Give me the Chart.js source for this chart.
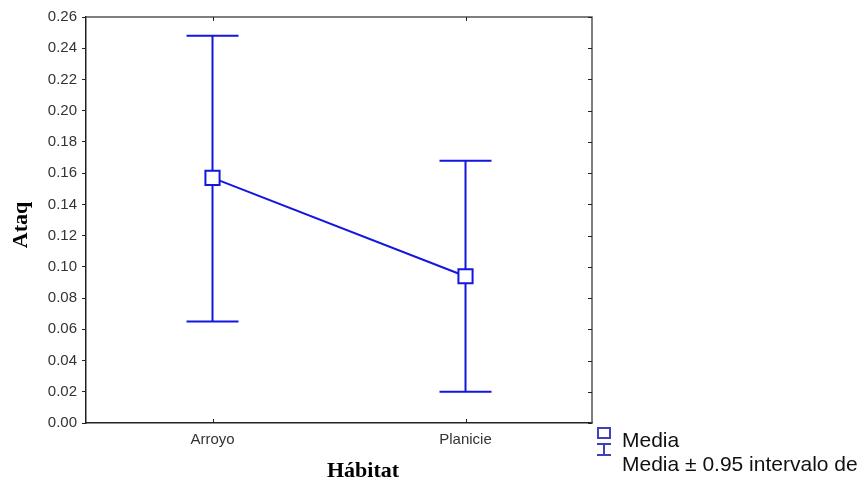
<!DOCTYPE html>
<html>
<head>
<meta charset="utf-8">
<script src="https://cdn.jsdelivr.net/npm/chart.js@4.4.1/dist/chart.umd.min.js"></script>
<style>
  html, body { margin: 0; padding: 0; background: #fff; }
  #wrap { width: 864px; height: 479px; }
</style>
</head>
<body>
<div id="wrap"><canvas id="meanChart"></canvas></div>
<script>
// Habitat means with 0.95 confidence limits
const habitats = ['Arroyo', 'Planicie'];
const means = [0.157, 0.094];
const upperCI = [0.248, 0.168];
const lowerCI = [0.065, 0.020];
const yTicks = [0, 0.02, 0.04, 0.06, 0.08, 0.10, 0.12, 0.14, 0.16, 0.18, 0.20, 0.22, 0.24, 0.26];

const blue = '#1515e0';
const frameColor = '#555';
const sans = '"Liberation Sans", Arial, sans-serif';
const serif = '"Liberation Serif", "Times New Roman", serif';

// whiskers for each category, drawn under the mean markers
const errorBars = {
    id: 'errorBars',
    beforeDatasetsDraw(chart) {
        const ctx = chart.ctx;
        const x = chart.scales.x, y = chart.scales.y;
        ctx.save();
        ctx.strokeStyle = blue;
        ctx.lineWidth = 2;
        habitats.forEach((h, i) => {
            const px = x.getPixelForValue(i);
            const top = y.getPixelForValue(upperCI[i]);
            const bot = y.getPixelForValue(lowerCI[i]);
            ctx.beginPath();
            ctx.moveTo(px, top); ctx.lineTo(px, bot);
            ctx.moveTo(px - 26, top); ctx.lineTo(px + 26, top);
            ctx.moveTo(px - 26, bot); ctx.lineTo(px + 26, bot);
            ctx.stroke();
        });
        ctx.restore();
    }
};

// box around the plot, inward ticks, axis titles and the legend
const frameAndLegend = {
    id: 'frameAndLegend',
    afterDraw(chart) {
        const ctx = chart.ctx;
        const a = chart.chartArea;
        const x = chart.scales.x, y = chart.scales.y;
        ctx.save();
        ctx.strokeStyle = frameColor;
        ctx.lineWidth = 1.5;
        ctx.beginPath();
        ctx.moveTo(a.left, a.top); ctx.lineTo(a.right, a.top); ctx.lineTo(a.right, a.bottom);
        ctx.stroke();

        ctx.strokeStyle = '#222';
        ctx.lineWidth = 1;
        ctx.beginPath();
        yTicks.forEach(v => {
            const py = Math.round(y.getPixelForValue(v)) + 0.5;
            ctx.moveTo(a.right - 4, py); ctx.lineTo(a.right, py);
        });
        habitats.forEach((h, i) => {
            const px = Math.round(x.getPixelForValue(i)) + 0.5;
            ctx.moveTo(px, a.top); ctx.lineTo(px, a.top + 4);
            ctx.moveTo(px, a.bottom); ctx.lineTo(px, a.bottom - 4);
        });
        ctx.stroke();

        // axis titles
        ctx.fillStyle = '#000';
        ctx.font = 'bold 22px ' + serif;
        ctx.textAlign = 'center';
        ctx.textBaseline = 'alphabetic';
        ctx.fillText('Hábitat', 363, 477);
        ctx.save();
        ctx.translate(27, 225);
        ctx.rotate(-Math.PI / 2);
        ctx.fillText('Ataq', 0, 0);
        ctx.restore();

        // legend
        const lx = 604;
        ctx.strokeStyle = '#4040b8';
        ctx.lineWidth = 2;
        ctx.strokeRect(lx - 6, 428, 12, 10);
        ctx.beginPath();
        ctx.moveTo(lx, 443); ctx.lineTo(lx, 455);
        ctx.moveTo(lx - 7, 444); ctx.lineTo(lx + 7, 444);
        ctx.moveTo(lx - 7, 455); ctx.lineTo(lx + 7, 455);
        ctx.stroke();
        ctx.fillStyle = '#111';
        ctx.font = '21px ' + sans;
        ctx.textAlign = 'left';
        ctx.fillText('Media', 622, 447);
        ctx.fillText('Media \u00b1 0.95 intervalo de', 622, 471);
        ctx.restore();
    }
};

new Chart(document.getElementById('meanChart'), {
    type: 'line',
    data: {
        labels: habitats,
        datasets: [{
            label: 'Media',
            data: means,
            borderColor: blue,
            borderWidth: 2,
            pointStyle: 'rect',
            pointRadius: 10,
            pointBorderWidth: 2,
            pointBackgroundColor: '#fff',
            pointBorderColor: blue,
            tension: 0,
            fill: false
        }]
    },
    options: {
        responsive: true,
        maintainAspectRatio: false,
        animation: false,
        layout: { padding: { top: 17, right: 272, left: 0, bottom: 0 } },
        plugins: {
            legend: { display: false },
            tooltip: { enabled: false }
        },
        scales: {
            x: {
                offset: true,
                grid: { display: false, drawTicks: false },
                border: { display: true, color: '#222', width: 1.5 },
                ticks: {
                    padding: 8,
                    color: '#333',
                    font: { family: sans, size: 15 }
                },
                afterFit(scale) { scale.height = 56; }
            },
            y: {
                min: 0,
                max: 0.26,
                afterBuildTicks(scale) { scale.ticks = yTicks.map(v => ({ value: v })); },
                grid: { drawOnChartArea: false, drawTicks: true, tickLength: 4, color: '#222' },
                border: { display: true, color: '#222', width: 1.5 },
                ticks: {
                    padding: 5,
                    color: '#333',
                    font: { family: sans, size: 15 },
                    callback: v => v.toFixed(2)
                },
                afterFit(scale) { scale.width = 86; }
            }
        }
    },
    plugins: [errorBars, frameAndLegend]
});
</script>
</body>
</html>
